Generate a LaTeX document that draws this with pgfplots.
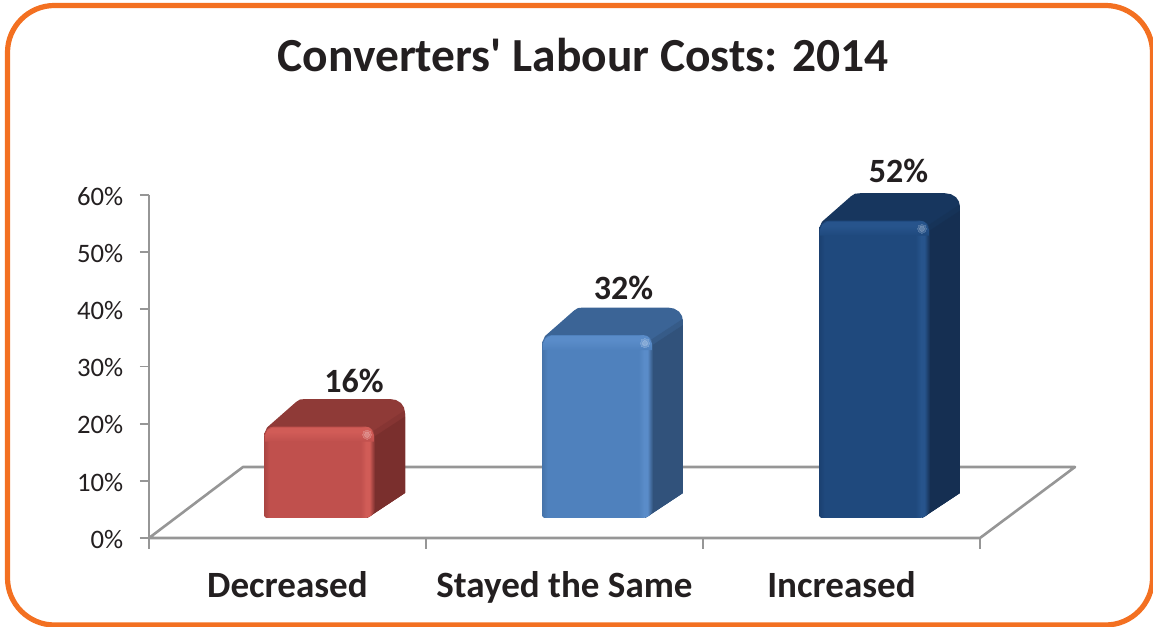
\documentclass[border=0pt]{standalone}
\usepackage{fontspec}
\setmainfont{Carlito}[Ligatures=TeXOff]
\usepackage{pgfplots}
\usepackage{pgfplotstable}
\pgfplotsset{compat=1.18}

% Drawing unit: one unit is 0.75pt
\newlength{\uu}\setlength{\uu}{0.75pt}

\definecolor{frameorange}{HTML}{F37021}
\definecolor{floorgrey}{HTML}{969696}
\definecolor{inktext}{HTML}{231F20}

% Palette per bar: edge, face, highlight, top, side, side dark
\definecolor{redE}{HTML}{A94542}\definecolor{redF}{HTML}{C0504D}\definecolor{redL}{HTML}{D15C57}
\definecolor{redT}{HTML}{8F3A37}\definecolor{redS}{HTML}{7A2F2D}\definecolor{redM}{HTML}{863533}
\definecolor{steelE}{HTML}{4673A9}\definecolor{steelF}{HTML}{4F81BD}\definecolor{steelL}{HTML}{5A8CC9}
\definecolor{steelT}{HTML}{3B6496}\definecolor{steelS}{HTML}{31527B}\definecolor{steelM}{HTML}{365B88}
\definecolor{navyE}{HTML}{1B4070}\definecolor{navyF}{HTML}{1F497D}\definecolor{navyL}{HTML}{27548C}
\definecolor{navyT}{HTML}{17365E}\definecolor{navyS}{HTML}{152F52}\definecolor{navyM}{HTML}{163358}

% Front-face shading: darker rim on the left, bright band near the right edge
\newcommand{\declarefront}[1]{%
  \pgfdeclarehorizontalshading{#1front}{100bp}{%
    color(0bp)=(#1E); color(25bp)=(#1E); color(27.5bp)=(#1F); color(68.5bp)=(#1F);
    color(71bp)=(#1L); color(72.5bp)=(#1L); color(75bp)=(#1S); color(100bp)=(#1S)}%
  \pgfdeclareverticalshading{#1band}{100bp}{%
    color(0bp)=(#1F); color(25bp)=(#1F); color(60bp)=(#1L); color(75bp)=(#1L);
    color(100bp)=(#1L)}%
}
\declarefront{red}\declarefront{steel}\declarefront{navy}

% Outlines: a = share of bar width, b = share of value, ox and oy = offsets in drawing units
\pgfplotstableread{
a b ox oy
0 0 0 2
0 1 0 -10
0 1 0.76 -6.17
0 1 2.93 -2.93
0 1 6.17 -0.76
0 1 10 0
1 1 -10 0
1 1 -6.17 -0.76
1 1 -2.93 -2.93
1 1 -0.76 -6.17
1 1 0 -10
1 0 0 10
1 0 -0.76 6.17
1 0 -2.93 2.93
1 0 -6.17 0.76
1 0 -10 0
0 0 2 0
}\frontshape

\pgfplotstableread{
a b ox oy
0 1 0 -8
0 1 3 -1
0 1 32 24.5
0 1 36 27
0 1 41 27.5
1 1 15 27.5
1 1 21 26.5
1 1 26 23.5
1 1 29 19
1 1 30 13.5
1 0 30 25
1 0 -8 0
}\capshape

\pgfplotstableread{
a b ox oy
1 1 -4 -6
1 1 29.5 16
1 1 30 13
1 0 30 25
1 0 -8 0
}\sidemid

\pgfplotstableread{
a b ox oy
1 1 -2 -11
1 1 30 10
1 0 30 25
1 0 -6 1
}\sideshape

\pgfplotstableread{
a b ox oy
0 1 1 -15
0 1 1 -8.5
0 1 3.6 -3.4
0 1 8.5 -1
1 1 -8.5 -1
1 1 -3.6 -3.4
1 1 -1 -8.5
1 1 -1 -15
}\bandshape

\pgfplotstableread{
a b ox oy
1 1 -8 -8
}\spotshape

% Bar parameters: width 111 units, 277 units per category, 5.717 units per percent,
% front face standing 3.5 percent above the axis floor line
\pgfplotsset{
  /pgfplots/table/barcoords/.style 2 args={
    x expr={#1+\thisrow{a}*0.4007+\thisrow{ox}/277},
    y expr={3.5+\thisrow{b}*#2+\thisrow{oy}/5.717}}
}

% #1 left edge, #2 value, #3 palette, #4 and #5 label offsets
\newcommand{\drawbar}[5]{%
  \addplot[fill=#3T, draw=none] table[barcoords={#1}{#2}] {\capshape} -- cycle;
  \addplot[fill=#3M, draw=none] table[barcoords={#1}{#2}] {\sidemid} -- cycle;
  \addplot[fill=#3S, draw=none] table[barcoords={#1}{#2}] {\sideshape} -- cycle;
  \addplot[shade, shading=#3front, draw=none] table[barcoords={#1}{#2}] {\frontshape} -- cycle;
  \addplot[shade, shading=#3band, draw=none] table[barcoords={#1}{#2}] {\bandshape} -- cycle;
  \addplot[only marks, mark=*, mark size=4.5\uu, draw=none,
    mark options={line width=0pt, draw=#3L!75!white, fill=#3L!75!white, opacity=0.55}]
    table[barcoords={#1}{#2}] {\spotshape};
  \addplot[only marks, mark=*, mark size=2.5\uu, draw=none,
    mark options={line width=0pt, draw=#3L!65!white, fill=#3L!65!white, opacity=0.6}]
    table[barcoords={#1}{#2}] {\spotshape};
  \addplot[draw=none, mark=none, point meta={#2},
    nodes near coords={\pgfmathprintnumber[assume math mode=true]{\pgfplotspointmeta}\%},
    every node near coord/.style={anchor=center, inner sep=0pt, text=inktext,
      font=\fontsize{25.5}{25.5}\selectfont\bfseries}]
    table[x expr={#1+0.20035+#4/277}, y expr={3.5+#2+#5/5.717}] {\spotshape};
}

\begin{document}
\begin{tikzpicture}
  % Page extent and rounded frame
  \path[use as bounding box] (-149\uu,-89\uu) rectangle (1004\uu,538\uu);
  \draw[frameorange, line width=5.2\uu, rounded corners=47\uu]
    (-141.5\uu,-87\uu) rectangle (1003.5\uu,532.5\uu);

  \begin{axis}[
    scale only axis, width=694.5pt, height=257.25pt,
    clip=false,
    xmin=0, xmax=3.3430, ymin=0, ymax=60,
    axis x line=bottom, axis y line=left,
    axis line style={-, floorgrey, line width=2.2\uu},
    x axis line style={draw=none},
    xtick={0.5,1.5,2.5},
    xticklabels={Decreased,Stayed the Same,Increased},
    x tick style={draw=none},
    extra x ticks={0,1,2,3},
    extra x tick labels={},
    extra x tick style={major tick length=8.25pt,
      x tick style={draw=floorgrey, line width=1.8\uu}},
    ytick={0,10,20,30,40,50,60},
    yticklabels={0\%,10\%,20\%,30\%,40\%,50\%,60\%},
    tick align=outside,
    y tick style={floorgrey, line width=1.8\uu},
    major tick length=6.75pt,
    xticklabel style={font=\fontsize{27.8}{27.8}\selectfont\bfseries, text=inktext,
      anchor=base, yshift=-38.25pt},
    yticklabel style={font=\fontsize{20}{20}\selectfont, text=inktext,
      anchor=east, xshift=-9pt, yshift=-1pt},
    title={Converters' Labour Costs: 2014},
    title style={font=\fontsize{35.6}{35.6}\selectfont\bfseries, text=inktext,
      at={(axis description cs:0.4687,1.3846)}, anchor=center},
  ]
    % Floor of the chart
    \addplot[floorgrey, line width=2.6\uu, line join=round] coordinates
      {(0,0) (3,0) (3.3430,12.42) (0.3394,12.42) (0,0)};

    \drawbar{0.4152}{16}{red}{34.5}{45.5}
    \drawbar{1.4188}{32}{steel}{26}{47}
    \drawbar{2.4188}{52}{navy}{24}{49.5}
  \end{axis}
\end{tikzpicture}
\end{document}
